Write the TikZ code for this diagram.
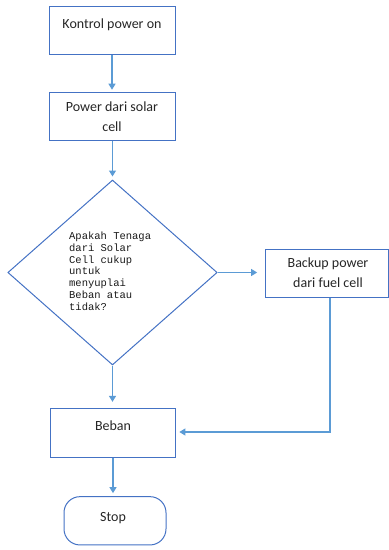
\documentclass[tikz,border=0pt]{standalone}
\usepackage{fontspec}
\setmainfont{Carlito}
\newfontfamily\codefont{Liberation Mono}
\usetikzlibrary{shapes.geometric,arrows.meta}
\definecolor{boxblue}{HTML}{4472C4}
\definecolor{linkblue}{HTML}{5B9BD5}
\tikzset{
  stepbox/.style={draw=boxblue, line width=1pt, rectangle, inner sep=0pt},
  lbl/.style={font=\fontsize{14}{20}\selectfont, align=center, inner sep=0pt, text=black!85},
  link/.style={draw=linkblue, line width=1.2pt, -{Triangle[width=7pt,length=6pt]}},
}
\begin{document}
\begin{tikzpicture}[x=1pt,y=-1pt]
\useasboundingbox (0,0) rectangle (389,550);

% process boxes
\node[stepbox, minimum width=126pt, minimum height=48.3pt] (kontrol) at (112,30.2) {};
\node[lbl] (kontrolT) at (112,24.3) {Kontrol power on};

\node[stepbox, minimum width=126pt, minimum height=48pt] (solar) at (112,116.7) {};
\node[lbl] (solarT) at (112,117) {Power dari solar\\cell};

% decision
\node[stepbox, diamond, minimum width=209.4pt, minimum height=185pt] (cek) at (112.5,272.5) {};
\node[font=\codefont\fontsize{10.5}{11.7}\selectfont, align=left, inner sep=0pt, anchor=north west, text=black!90] (cekT) at (69,232) {Apakah Tenaga\\dari Solar\\Cell cukup\\untuk\\menyuplai\\Beban atau\\tidak?};

\node[stepbox, minimum width=123.3pt, minimum height=48pt] (backup) at (327.3,273) {};
\node[lbl] (backupT) at (328,273) {Backup power\\dari fuel cell};

\node[stepbox, minimum width=125.7pt, minimum height=48.7pt] (beban) at (113,432.7) {};
\node[lbl] (bebanT) at (113,425.7) {Beban};

% terminator
\node[stepbox, rounded corners=16pt, minimum width=102pt, minimum height=48.3pt] (stop) at (115,520.8) {};
\node[lbl] (stopT) at (113,517.7) {Stop};

% connectors
\draw[link, shorten >=2.5pt] (kontrol.south) -- (solar.north);
\draw[link, shorten >=3pt] (solar.south -| cek.north) -- (cek.north);
\draw[link, shorten >=8pt] (cek.east) -- (cek.east -| backup.west);
\draw[link, shorten >=6pt] (cek.south) -- (cek.south |- beban.north);
\coordinate (turn) at (330,432);
\draw[link, shorten >=3pt] (backup.south -| turn) -- (turn) -- (beban.east |- turn);
\draw[link, shorten >=3pt] (beban.south) -- (beban.south |- stop.north);
\end{tikzpicture}
\end{document}
